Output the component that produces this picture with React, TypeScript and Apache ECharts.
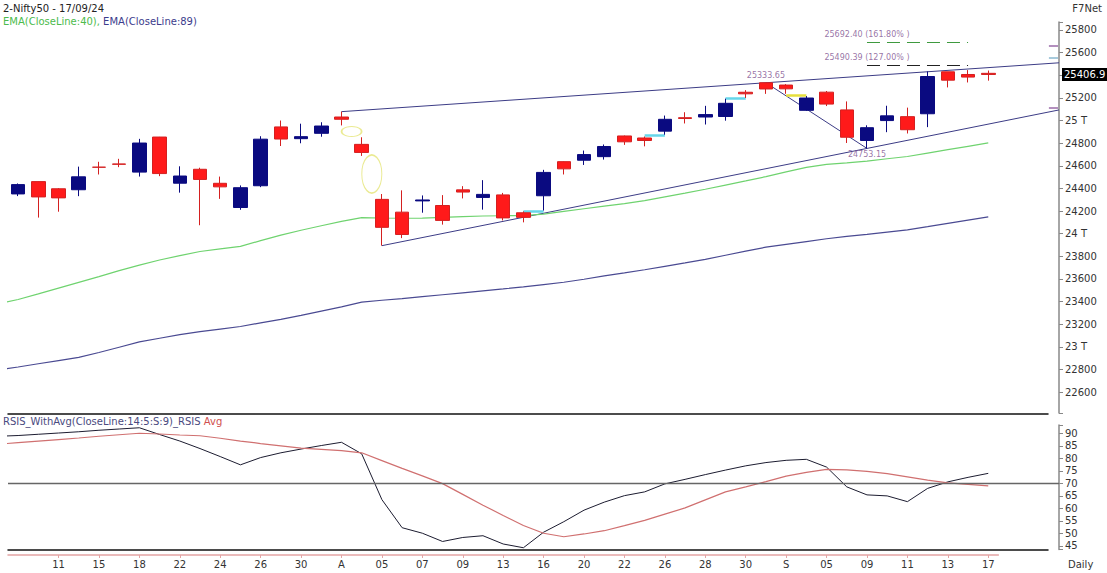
import React, { useEffect, useRef } from 'react';
import * as echarts from 'echarts';

// ---------- DATA ----------
const dates = ['09 Jul','10 Jul','11 Jul','12 Jul','15 Jul','16 Jul','18 Jul','19 Jul','22 Jul','23 Jul','24 Jul','25 Jul','26 Jul','29 Jul','30 Jul','31 Jul','01 Aug','02 Aug','05 Aug','06 Aug','07 Aug','08 Aug','09 Aug','12 Aug','13 Aug','14 Aug','16 Aug','19 Aug','20 Aug','21 Aug','22 Aug','23 Aug','26 Aug','27 Aug','28 Aug','29 Aug','30 Aug','02 Sep','03 Sep','04 Sep','05 Sep','06 Sep','09 Sep','10 Sep','11 Sep','12 Sep','13 Sep','16 Sep','17 Sep'];

const tickLabels = ['','','11','','15','','18','','22','','24','','26','','30','','A','','05','','07','','09','','13','','16','','20','','22','','26','','28','','30','','S','','05','','09','','11','','13','','17'];

const opens = [24351.0,24459.85,24396.55,24387.95,24587.6,24615.9,24543.8,24853.8,24445.75,24568.9,24444.95,24230.95,24423.35,24943.3,24839.4,24886.7,25030.95,24789.0,24302.85,24189.85,24289.4,24248.55,24386.85,24320.05,24342.35,24184.4,24334.85,24636.35,24648.9,24680.55,24863.4,24845.4,24906.1,25024.8,25030.8,25035.3,25249.7,25333.6,25313.4,25089.95,25250.5,25093.7,24823.4,24999.4,25034.0,25059.65,25430.45,25406.65,25416.9];
const highs = [24443.6,24461.05,24402.65,24592.2,24635.05,24661.25,24837.75,24854.8,24595.2,24582.55,24504.25,24426.15,24861.15,24999.75,24971.75,24984.6,25078.3,24851.9,24350.05,24382.6,24337.7,24340.5,24419.75,24472.8,24359.95,24196.5,24563.9,24638.8,24734.3,24787.95,24867.35,24858.4,25043.8,25073.1,25129.6,25192.9,25268.35,25333.65,25321.7,25216.0,25260.75,25168.75,24957.5,25130.5,25113.7,25433.35,25430.5,25445.7,25441.65];
const lows = [24331.9,24141.8,24193.75,24331.15,24522.75,24587.65,24504.45,24508.15,24362.3,24074.2,24307.25,24210.8,24410.9,24774.6,24798.65,24856.5,24956.4,24686.85,23893.7,23960.4,24184.9,24079.7,24311.2,24212.1,24116.5,24099.7,24204.5,24522.95,24607.2,24654.5,24784.45,24771.65,24874.7,24973.65,24964.65,24998.5,25199.4,25235.5,25235.8,25083.8,25127.75,24801.3,24753.15,24896.8,24885.15,24941.45,25292.45,25336.2,25352.25];
const closes = [24433.2,24324.45,24315.95,24502.15,24586.7,24613.0,24800.85,24530.9,24509.25,24479.05,24413.5,24406.1,24834.85,24836.1,24857.3,24951.15,25010.9,24717.7,24055.6,23992.55,24297.5,24117.0,24367.5,24347.0,24139.0,24143.75,24541.15,24572.65,24698.85,24770.2,24811.5,24823.15,25010.6,25017.75,25052.35,25151.95,25235.9,25278.7,25279.85,25198.7,25145.1,24852.15,24936.4,25041.1,24918.45,25388.9,25356.5,25383.75,25406.9];

// indicator series start one session earlier (08 Jul, index -1)
const ema40 = [23378,23418,23467,23518,23569,23620,23673,23721,23767,23805,23842,23865,23888,23938,23987,24030,24070,24108,24141,24138,24136,24137,24144,24151,24156,24158,24160,24173,24197,24220,24243,24266,24292,24325,24358,24392,24429,24466,24504,24546,24586,24613,24626,24641,24662,24682,24712,24742,24772,24802];
const ema89 = [22794,22821,22850,22878,22906,22949,22996,23043,23075,23107,23134,23156,23179,23211,23242,23277,23315,23353,23394,23411,23426,23443,23460,23477,23494,23511,23529,23550,23570,23597,23626,23653,23681,23711,23741,23772,23809,23845,23880,23905,23930,23955,23975,23994,24014,24034,24062,24091,24120,24148];
const rsis = [88.8,89.1,89.6,90.1,90.6,91.2,91.7,92.2,89.5,86.9,83.9,80.7,77.4,80.3,82.2,83.7,85.1,86.4,81.8,63.5,52.3,50.1,46.8,48.4,49.1,45.8,44.3,50.5,54.7,59.3,62.5,65.1,66.6,69.8,71.6,73.5,75.3,77.0,78.3,79.2,79.6,76.5,68.6,65.4,65.0,62.7,68.0,70.6,72.4,74.0];
const rsiAvg = [85.6,86.3,86.9,87.5,88.1,88.8,89.4,90.0,89.7,89.3,89.0,88.0,86.9,85.9,85.0,84.1,83.6,83.1,82.2,79.1,76.0,73.0,69.9,65.6,61.3,57.2,53.2,50.1,48.7,49.8,51.1,53.1,55.2,57.7,60.2,63.4,66.6,68.6,70.7,72.9,74.4,75.6,75.4,74.8,73.9,72.6,71.3,70.2,69.6,69.0];

// drawing-tool anchors (session index, price)
const upperTrend = [[16, 25078.3], [37, 25333.65]];
const lowerTrend = [[18, 23893.7], [42, 24753.15]];
const swingLeg = [[37, 25333.65], [42, 24753.15]];
const fibLevels = [25692.40, 25490.39];
const fibPcts = ['161.80%', '127.00%'];
const fibRange = [42, 47];
const gapFrom = [25, 31, 35, 38];
const gapPrice = [24200, 24866, 25196, 25226];
const gapUp = [true, true, true, false];
const pivotIdx = [37, 42];
const pivotPrice = [25333.65, 24753.15];
const ellipseCenters = [[16.5, 24903], [17.5, 24527]];
const edgeMarks = [25661, 25552, 25110];

// ---------- STYLE ----------
const FONT = 'DejaVu Sans';
const NCAT = 52;
const X_MAX = NCAT - 0.5;

function extend(a: number[], b: number[], x: number) {
  return [x, a[1] + ((b[1] - a[1]) * (x - a[0])) / (b[0] - a[0])];
}

function buildOption() {
  const catData = [...dates, 'e1', 'e2', 'e3'];
  const candleData = dates.map((_, i) => [opens[i], closes[i], lows[i], highs[i]]);
  const shift = (arr: number[]) => arr.map((v, k) => [k - 1, v]);

  const navy = '#3c3c86';
  const lineItems: any[] = [
    { coords: [upperTrend[0], extend(upperTrend[0], upperTrend[1], X_MAX)], lineStyle: { color: navy, width: 1, opacity: 1 } },
    { coords: [lowerTrend[0], extend(lowerTrend[0], lowerTrend[1], X_MAX)], lineStyle: { color: navy, width: 1, opacity: 1 } },
    { coords: swingLeg, lineStyle: { color: navy, width: 1, opacity: 1 } },
    { coords: [[fibRange[0], fibLevels[0]], [fibRange[1], fibLevels[0]]], lineStyle: { color: '#3f9a3f', width: 1, type: [13, 7], opacity: 1 } },
    { coords: [[fibRange[0], fibLevels[1]], [fibRange[1], fibLevels[1]]], lineStyle: { color: '#222', width: 1, type: [13, 7], opacity: 1 } },
  ];
  gapFrom.forEach((g, k) => {
    lineItems.push({ coords: [[g, gapPrice[k]], [g + 1, gapPrice[k]]], lineStyle: { color: gapUp[k] ? '#66d6ea' : '#e6df3c', width: 2.5, opacity: 1 } });
  });
  const edgeColors = ['#9a6aa8', '#8ab8d0', '#9a6aa8'];
  edgeMarks.forEach((p, k) => {
    lineItems.push({ coords: [[51.0, p], [51.45, p]], lineStyle: { color: edgeColors[k], width: 1.5, opacity: 1 } });
  });

  const textLabels: any[] = [];
  fibLevels.forEach((p, k) => {
    textLabels.push({ value: [fibRange[0], p], name: `${p.toFixed(2)} (${fibPcts[k]} )`, label: { position: 'top', distance: 3 } });
  });
  pivotIdx.forEach((ix, k) => {
    textLabels.push({ value: [ix, pivotPrice[k]], name: pivotPrice[k].toFixed(2), label: { position: k === 0 ? 'top' : 'bottom', distance: k === 0 ? 3 : 2 } });
  });

  const ellipseSizes = [[20, 10], [20, 38]];
  const ellipses = ellipseCenters.map((c, k) => ({ value: c, symbolSize: ellipseSizes[k] }));

  const priceFmt = (v: number) => {
    const r = Math.round(v);
    if (Math.abs(v - r) > 1e-6 || r % 200 !== 0 || r === 25400) return '';
    return r % 1000 === 0 ? `${r / 1000} T` : String(r);
  };
  const rsiFmt = (v: number) => {
    const r = Math.round(v);
    if (Math.abs(v - r) > 1e-6 || r % 5 !== 0) return '';
    return String(r);
  };

  const hiddenValueX = (grid: number) => ({ type: 'value', gridIndex: grid, min: -0.5, max: X_MAX, show: false });
  const axisLabelStyle = { color: '#333', fontSize: 10, fontFamily: FONT };
  const txt = (color: string) => ({ color, fontSize: 10, fontFamily: FONT, fontWeight: 'normal' });

  return {
    animation: false,
    backgroundColor: '#fff',
    title: [
      { text: '2-Nifty50 - 17/09/24', left: 3, top: 3, padding: 0, textStyle: txt('#222') },
      { text: '{g|EMA(CloseLine:40),} {n|EMA(CloseLine:89)}', left: 3, top: 16, padding: 0,
        textStyle: { ...txt('#333'), rich: { g: txt('#4cbb4c'), n: txt('#3c3c8c') } } },
      { text: 'F7Net', right: 5, top: 3, padding: 0, textStyle: txt('#333') },
      { text: '{a|RSIS_WithAvg(CloseLine:14:5:S:9)_RSIS} {b|Avg}', left: 3, top: 416, padding: 0,
        textStyle: { ...txt('#333'), rich: { a: txt('#4a4a80'), b: txt('#d05050') } } },
      { text: 'Daily', left: 1068, top: 559, padding: 0, textStyle: txt('#333') },
    ],
    grid: [
      { left: 8, right: 48, top: 22, height: 391 },
      { left: 8, right: 48, top: 425, height: 124.5 },
      { left: 8, width: (1051 / NCAT) * dates.length, top: 425, bottom: 18 },
      { left: 8, right: 59, top: 414, height: 136 },
    ],
    xAxis: [
      { type: 'category', gridIndex: 0, data: catData, boundaryGap: true, show: false },
      hiddenValueX(0),
      hiddenValueX(1),
      { type: 'category', gridIndex: 2, data: dates, boundaryGap: true, position: 'bottom',
        axisLine: { show: true, onZero: false, lineStyle: { color: '#e4a4a4', width: 1.5 } },
        axisTick: { show: true, alignWithLabel: true, length: 3, interval: (i: number) => tickLabels[i] !== '', lineStyle: { color: '#e4a4a4' } },
        axisLabel: { ...axisLabelStyle, margin: 4, interval: (i: number) => tickLabels[i] !== '', formatter: (_v: string, i: number) => tickLabels[i] },
        splitLine: { show: false } },
      { type: 'value', gridIndex: 3, position: 'top', min: 0, max: 1,
        axisLine: { show: true, onZero: false, lineStyle: { color: '#111', width: 1.5 } }, axisTick: { show: false }, axisLabel: { show: false }, splitLine: { show: false } },
      { type: 'value', gridIndex: 3, position: 'bottom', min: 0, max: 1,
        axisLine: { show: true, onZero: false, lineStyle: { color: '#111', width: 1.5 } }, axisTick: { show: false }, axisLabel: { show: false }, splitLine: { show: false } },
    ],
    yAxis: [
      { type: 'value', gridIndex: 0, position: 'right', min: 22414.5, max: 25870.7, splitNumber: 17, minInterval: 200, maxInterval: 200, scale: true,
        axisLine: { show: true, onZero: false, lineStyle: { color: '#888', width: 1.5 } },
        axisTick: { show: true, length: 4, lineStyle: { color: '#888' } },
        axisLabel: { ...axisLabelStyle, margin: 6, formatter: priceFmt },
        splitLine: { show: false } },
      { type: 'value', gridIndex: 1, position: 'right', min: 43.6, max: 93.3, splitNumber: 10, minInterval: 5, maxInterval: 5, scale: true,
        axisLine: { show: true, onZero: false, lineStyle: { color: '#888', width: 1.5 } },
        axisTick: { show: true, length: 4, lineStyle: { color: '#888' } },
        axisLabel: { ...axisLabelStyle, margin: 6, formatter: rsiFmt },
        splitLine: { show: false } },
      { type: 'value', gridIndex: 2, show: false },
      { type: 'value', gridIndex: 3, show: false, min: 0, max: 1 },
    ],
    series: [
      { name: 'EMA40', type: 'line', xAxisIndex: 1, yAxisIndex: 0, data: shift(ema40), symbol: 'none', z: 2,
        lineStyle: { color: '#6fd36f', width: 1.2 } },
      { name: 'EMA89', type: 'line', xAxisIndex: 1, yAxisIndex: 0, data: shift(ema89), symbol: 'none', z: 2,
        lineStyle: { color: '#4a4a92', width: 1.2 } },
      { name: 'drawings', type: 'lines', coordinateSystem: 'cartesian2d', xAxisIndex: 1, yAxisIndex: 0, z: 2,
        lineStyle: { opacity: 1, curveness: 0 }, data: lineItems, silent: true },
      { name: 'Nifty50', type: 'candlestick', xAxisIndex: 0, yAxisIndex: 0, data: candleData, barWidth: 14, z: 4,
        itemStyle: { color: '#0a0a80', color0: '#ff1a1a', borderColor: '#0a0a80', borderColor0: '#d42020', borderWidth: 1 },
        markLine: { silent: true, symbol: 'none', animation: false,
          lineStyle: { color: 'rgba(0,0,0,0)' },
          label: { show: true, position: 'end', formatter: String(closes[closes.length - 1]), color: '#fff', backgroundColor: '#000', padding: [2, 2, 1, 2], fontSize: 10, fontFamily: FONT, distance: 3 },
          data: [{ yAxis: closes[closes.length - 1] }] } },
      { name: 'ellipses', type: 'scatter', xAxisIndex: 1, yAxisIndex: 0, symbol: 'circle', data: ellipses, z: 5, silent: true,
        itemStyle: { color: 'rgba(0,0,0,0)', borderColor: '#e5e577', borderWidth: 1.3 } },
      { name: 'labels', type: 'scatter', xAxisIndex: 1, yAxisIndex: 0, symbolSize: 1, data: textLabels, z: 6, silent: true,
        itemStyle: { color: 'rgba(0,0,0,0)' },
        label: { show: true, formatter: (p: any) => p.name, color: '#7e4f8f', fontSize: 8, fontFamily: FONT } },
      { name: 'RSIS', type: 'line', xAxisIndex: 2, yAxisIndex: 1, data: shift(rsis), symbol: 'none', z: 3,
        lineStyle: { color: '#1c1c30', width: 1 },
        markLine: { silent: true, symbol: 'none', animation: false, label: { show: false },
          lineStyle: { color: '#666', width: 1.3, type: 'solid' }, data: [{ yAxis: 70 }] } },
      { name: 'Avg', type: 'line', xAxisIndex: 2, yAxisIndex: 1, data: shift(rsiAvg), symbol: 'none', z: 3,
        lineStyle: { color: '#d07070', width: 1.2 } },
    ],
  };
}

export default function App() {
  const ref = useRef<HTMLDivElement>(null);
  useEffect(() => {
    if (!ref.current) return;
    const chart = echarts.init(ref.current, null, { renderer: 'svg' });
    chart.setOption(buildOption() as any);
    return () => chart.dispose();
  }, []);
  return <div ref={ref} style={{ position: 'absolute', left: 0, top: 0, width: 1107, height: 573 }} />;
}
